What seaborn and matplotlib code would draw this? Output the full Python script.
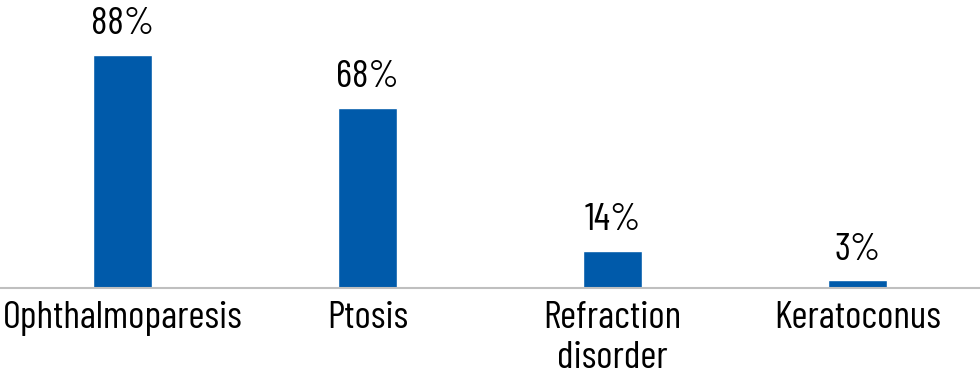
import numpy as np
import pandas as pd
import matplotlib
matplotlib.use("Agg")
import matplotlib.pyplot as plt
import seaborn as sns

# données
categories = ["Ophthalmoparesis", "Ptosis", "Refraction\ndisorder", "Keratoconus"]
values = [88, 68, 14, 3]

df = pd.DataFrame({"cat": categories, "val": values})

sns.set_style("white")
plt.rcParams['font.family'] = ['Barlow Condensed', 'DejaVu Sans']

fig = plt.figure(figsize=(9.8, 3.8), dpi=100)
ax = fig.add_axes([0, 92 / 380, 1, 288 / 380])

sns.barplot(data=df, x="cat", y="val", color="#005AAA", width=0.24,
            saturation=1, ax=ax)

ax.set_xlim(-0.5, 3.5)
ax.set_ylim(0, 108.7)
for c in ax.containers:
    ax.bar_label(c, labels=[f"{v}%" for v in values], padding=9,
                 fontsize=28, color="black")

ax.set_xlabel("")
ax.set_ylabel("")
ax.set_yticks([])
ax.tick_params(axis="x", length=0, pad=9, labelsize=28, labelcolor="black")
for lbl in ax.get_xticklabels():
    lbl.set_linespacing(1.2)
for s in ["top", "left", "right"]:
    ax.spines[s].set_visible(False)
ax.spines["bottom"].set_color("#BFBFBF")
ax.spines["bottom"].set_linewidth(1.5)

fig.savefig("out.png", dpi=100)
